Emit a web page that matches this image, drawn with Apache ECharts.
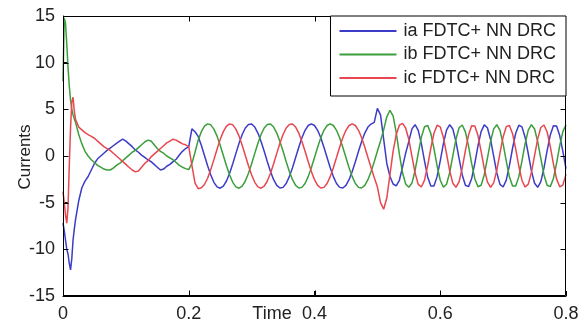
<!DOCTYPE html>
<html>
<head>
<meta charset="utf-8">
<title>Currents</title>
<script src="https://cdn.jsdelivr.net/npm/echarts/dist/echarts.min.js"></script>
<style>
  html, body { margin: 0; padding: 0; background: #fff; }
  #chart { width: 584px; height: 329px; }
</style>
</head>
<body>
<div id="chart"></div>
<script>
// sample times (s)
const time = [
  0, 0.002, 0.004, 0.006, 0.008, 0.010, 0.012, 0.014, 0.016, 0.018,
  0.020, 0.025, 0.030, 0.035, 0.040, 0.045, 0.050, 0.055, 0.060, 0.065,
  0.070, 0.075, 0.080, 0.085, 0.090, 0.095, 0.100, 0.105, 0.110, 0.115,
  0.120, 0.125, 0.130, 0.135, 0.140, 0.145, 0.150, 0.155, 0.160, 0.165,
  0.170, 0.175, 0.180, 0.185, 0.190, 0.195, 0.200, 0.205, 0.210, 0.215,
  0.220, 0.225, 0.230, 0.235, 0.240, 0.245, 0.250, 0.255, 0.260, 0.265,
  0.270, 0.275, 0.280, 0.285, 0.290, 0.295, 0.300, 0.305, 0.310, 0.315,
  0.320, 0.325, 0.330, 0.335, 0.340, 0.345, 0.350, 0.355, 0.360, 0.365,
  0.370, 0.375, 0.380, 0.385, 0.390, 0.395, 0.400, 0.405, 0.410, 0.415,
  0.420, 0.425, 0.430, 0.435, 0.440, 0.445, 0.450, 0.455, 0.460, 0.465,
  0.470, 0.475, 0.480, 0.485, 0.490, 0.495, 0.500, 0.505, 0.510, 0.515,
  0.520, 0.525, 0.530, 0.535, 0.540, 0.545, 0.550, 0.555, 0.560, 0.565,
  0.570, 0.575, 0.580, 0.585, 0.590, 0.595, 0.600, 0.605, 0.610, 0.615,
  0.620, 0.625, 0.630, 0.635, 0.640, 0.645, 0.650, 0.655, 0.660, 0.665,
  0.670, 0.675, 0.680, 0.685, 0.690, 0.695, 0.700, 0.705, 0.710, 0.715,
  0.720, 0.725, 0.730, 0.735, 0.740, 0.745, 0.750, 0.755, 0.760, 0.765,
  0.770, 0.775, 0.780, 0.785, 0.790, 0.795, 0.800
];

// phase a (blue)
const ia = [
  -7.2, -8.0, -9.0, -10.0, -10.5, -11.5, -12.2, -11.0, -9.0, -7.8,
  -6.8, -4.8, -3.4, -2.7, -2.2, -1.5, -0.8, -0.3, 0.0, 0.3,
  0.6, 0.85, 1.1, 1.35, 1.6, 1.8, 1.6, 1.3, 1.0, 0.65,
  0.4, 0.1, -0.15, -0.4, -0.6, -0.9, -1.2, -1.5, -1.4, -1.1,
  -0.9, -0.6, -0.35, 0.1, 0.5, 0.8, 1.0, 2.9, 2.6, 2.1,
  1.15, 0.06, -1.04, -2.04, -2.82, -3.31, -3.45, -3.23, -2.68, -1.85,
  -0.83, 0.28, 1.36, 2.30, 3.00, 3.38, 3.42, 3.10, 2.46, 1.56,
  0.50, -0.61, -1.66, -2.54, -3.15, -3.43, -3.36, -2.94, -2.21, -1.25,
  -0.17, 0.94, 1.95, 2.75, 3.27, 3.45, 3.27, 2.75, 1.95, 0.94,
  -0.17, -1.25, -2.21, -2.94, -3.36, -3.43, -3.15, -2.54, -1.66, -0.61,
  0.50, 1.56, 2.46, 3.10, 3.42, 3.6, 5.1, 4.4, 1.8, -0.8,
  -2.2, -3.0, -3.2, -2.6, -1.2, 0.3, 1.57, 2.91, 3.35, 2.75,
  1.30, -0.55, -2.24, -3.22, -3.21, -2.21, -0.52, 1.33, 2.77, 3.35,
  2.89, 1.54, -0.29, -2.03, -3.14, -3.28, -2.40, -0.78, 1.09, 2.61,
  3.33, 3.02, 1.77, -0.03, -1.82, -3.04, -3.32, -2.58, -1.04, 0.83,
  2.44, 3.29, 3.12, 1.99, 0.24, -1.59, -2.92, -3.35, -2.74, -1.28,
  0.57, 2.24, 3.23, 3.21, 2.19, 0.50, -1.35
];

// phase b (green)
const ib = [
  8.0, 14.8, 14.2, 12.0, 9.5, 7.5, 6.0, 5.0, 4.4, 4.0,
  3.6, 2.3, 1.3, 0.5, 0.0, -0.4, -0.7, -1.0, -1.2, -1.4,
  -1.5, -1.5, -1.3, -1.0, -0.8, -0.5, -0.2, 0.1, 0.4, 0.6,
  0.9, 1.2, 1.5, 1.7, 1.6, 1.2, 0.8, 0.5, 0.3, 0.0,
  -0.2, -0.4, -0.7, -1.0, -1.2, -1.35, -1.45, -0.8, 0.4, 1.7,
  2.61, 3.19, 3.44, 3.34, 2.88, 2.13, 1.15, 0.06, -1.04, -2.04,
  -2.82, -3.31, -3.45, -3.23, -2.68, -1.85, -0.83, 0.28, 1.36, 2.30,
  3.00, 3.38, 3.42, 3.10, 2.46, 1.56, 0.50, -0.61, -1.66, -2.54,
  -3.15, -3.43, -3.36, -2.94, -2.21, -1.25, -0.17, 0.94, 1.95, 2.75,
  3.27, 3.45, 3.27, 2.75, 1.95, 0.94, -0.17, -1.25, -2.21, -2.94,
  -3.36, -3.43, -3.15, -2.54, -1.66, -0.61, 0.50, 1.6, 2.8, 4.2,
  4.9, 4.3, 2.5, 0.2, -1.8, -3.0, -3.35, -2.90, -1.55, 0.27,
  2.02, 3.13, 3.28, 2.41, 0.79, -1.07, -2.60, -3.33, -3.03, -1.78,
  0.01, 1.80, 3.03, 3.32, 2.59, 1.05, -0.82, -2.43, -3.29, -3.13,
  -2.00, -0.26, 1.57, 2.91, 3.35, 2.75, 1.30, -0.55, -2.23, -3.22,
  -3.21, -2.21, -0.52, 1.33, 2.77, 3.35, 2.89, 1.54, -0.29, -2.03,
  -3.14, -3.28, -2.40, -0.78, 1.09, 2.61, 3.33
];

// phase c (red)
const ic = [
  -3.8, -5.0, -6.3, -7.2, -5.5, -1.0, 3.0, 5.8, 6.3, 4.8,
  3.9, 3.1, 2.8, 2.5, 2.3, 2.1, 1.9, 1.6, 1.3, 1.0,
  0.8, 0.6, 0.3, 0.0, -0.3, -0.6, -0.9, -1.2, -1.5, -1.7,
  -1.6, -1.2, -0.8, -0.5, -0.1, 0.2, 0.5, 0.8, 1.1, 1.4,
  1.6, 1.8, 1.7, 1.5, 1.3, 1.2, 1.0, -1.0, -2.9, -3.5,
  -3.41, -3.05, -2.38, -1.46, -0.39, 0.72, 1.76, 2.61, 3.19, 3.44,
  3.34, 2.88, 2.13, 1.15, 0.06, -1.04, -2.04, -2.82, -3.31, -3.45,
  -3.23, -2.68, -1.85, -0.83, 0.28, 1.36, 2.30, 3.00, 3.38, 3.42,
  3.10, 2.46, 1.56, 0.50, -0.61, -1.66, -2.54, -3.15, -3.43, -3.36,
  -2.94, -2.21, -1.25, -0.17, 0.94, 1.95, 2.75, 3.27, 3.45, 3.27,
  2.75, 1.95, 0.94, -0.17, -1.25, -2.3, -3.3, -5.0, -5.7, -4.5,
  -2.0, 0.5, 2.3, 3.3, 3.5, 3.0, 1.77, -0.03, -1.82, -3.04,
  -3.32, -2.58, -1.03, 0.83, 2.44, 3.29, 3.12, 1.99, 0.24, -1.59,
  -2.92, -3.35, -2.74, -1.28, 0.57, 2.25, 3.23, 3.21, 2.19, 0.50,
  -1.35, -2.78, -3.35, -2.88, -1.52, 0.31, 2.04, 3.15, 3.27, 2.39,
  0.76, -1.10, -2.62, -3.33, -3.01, -1.75, 0.05, 1.83, 3.05, 3.32,
  2.57, 1.02, -0.85, -2.45, -3.29, -3.12, -1.97
];

const xTicks = [0, 0.2, 0.4, 0.6, 0.8];
const yTicks = [-15, -10, -5, 0, 5, 10, 15];

const seriesNames = ['ia FDTC+ NN DRC', 'ib FDTC+ NN DRC', 'ic FDTC+ NN DRC'];
const seriesColors = ['#3c3cc8', '#3a9e3a', '#e8474f'];

const chart = echarts.init(document.getElementById('chart'));

const font = 'Liberation Sans';
const gridBox = { left: 63, right: 18, top: 16, bottom: 33 };

function line(name, values, color) {
  return {
    name: name,
    type: 'line',
    data: time.map((t, i) => [t, values[i]]),
    symbol: 'none',
    lineStyle: { color: color, width: 1.5 },
    itemStyle: { color: color }
  };
}

chart.setOption({
  animation: false,
  grid: gridBox,
  legend: {
    orient: 'vertical',
    right: 18,
    top: 16,
    z: 10,
    icon: 'rect',
    itemWidth: 57,
    itemHeight: 2,
    itemGap: 3.5,
    padding: [5, 10, 8, 9],
    backgroundColor: '#fff',
    borderColor: '#000',
    borderWidth: 1,
    borderRadius: 0,
    textStyle: { fontSize: 18, fontFamily: font, lineHeight: 20, color: '#222', padding: [0, 0, 0, 2] },
    data: seriesNames
  },
  xAxis: {
    type: 'value',
    min: xTicks[0], max: xTicks[xTicks.length - 1], interval: 0.2,
    axisLine: { show: true, onZero: false, lineStyle: { color: '#000', width: 1 } },
    axisTick: { show: true, inside: true, length: 5 },
    splitLine: { show: false },
    axisLabel: { fontSize: 18, fontFamily: font, color: '#222', margin: 9 }
  },
  yAxis: {
    type: 'value',
    min: yTicks[0], max: yTicks[yTicks.length - 1], interval: 5,
    axisLine: { show: true, onZero: false, lineStyle: { color: '#000', width: 1 } },
    axisTick: { show: true, inside: true, length: 5 },
    splitLine: { show: false },
    axisLabel: { fontSize: 18, fontFamily: font, color: '#222', margin: 8 }
  },
  series: [
    line(seriesNames[0], ia, seriesColors[0]),
    line(seriesNames[1], ib, seriesColors[1]),
    line(seriesNames[2], ic, seriesColors[2])
  ]
});

// plot frame and inward ticks on all four sides (MATLAB style)
const W = chart.getWidth(), H = chart.getHeight();
const L = gridBox.left + 0.5, T = gridBox.top + 0.5;
const R = W - gridBox.right - 0.5, B = H - gridBox.bottom - 0.5;

function xPix(v) {
  const p = chart.convertToPixel({ xAxisIndex: 0 }, v);
  if (typeof p === 'number' && isFinite(p)) return Math.round(p) + 0.5;
  return Math.round(L + (v - xTicks[0]) / (xTicks[xTicks.length - 1] - xTicks[0]) * (R - L)) + 0.5;
}
function yPix(v) {
  const p = chart.convertToPixel({ yAxisIndex: 0 }, v);
  if (typeof p === 'number' && isFinite(p)) return Math.round(p) + 0.5;
  return Math.round(B - (v - yTicks[0]) / (yTicks[yTicks.length - 1] - yTicks[0]) * (B - T)) + 0.5;
}

function seg(x1, y1, x2, y2) {
  return {
    type: 'line', z: 5, silent: true,
    shape: { x1: x1, y1: y1, x2: x2, y2: y2 },
    style: { stroke: '#000', lineWidth: 1 }
  };
}

const elements = [
  seg(L, T, R, T), seg(R, T, R, B), seg(R, B, L, B), seg(L, B, L, T),
  {
    type: 'text', x: 272, y: 314,
    style: { text: 'Time', font: '18px ' + font, fill: '#222', align: 'center', verticalAlign: 'middle' }
  },
  {
    type: 'text', x: 25, y: 157, rotation: Math.PI / 2,
    style: { text: 'Currents', font: '17px ' + font, fill: '#222', align: 'center', verticalAlign: 'middle' }
  }
];
xTicks.slice(1, -1).forEach(v => {
  const x = xPix(v);
  elements.push(seg(x, B, x, B - 5));
  elements.push(seg(x, T, x, T + 5));
});
yTicks.slice(1, -1).forEach(v => {
  const y = yPix(v);
  elements.push(seg(L, y, L + 5, y));
  elements.push(seg(R, y, R - 5, y));
});

chart.setOption({ graphic: { elements: elements } });
</script>
</body>
</html>
